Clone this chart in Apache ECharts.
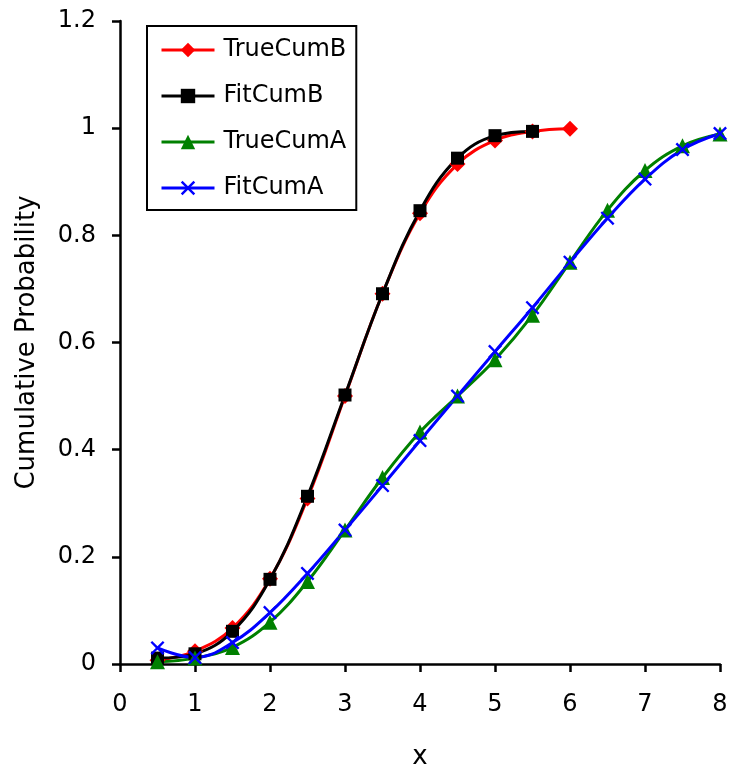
<!DOCTYPE html>
<html>
<head>
<meta charset="utf-8">
<script src="https://cdn.jsdelivr.net/npm/echarts@6/dist/echarts.min.js"></script>
<style>
html,body{margin:0;padding:0;background:#fff;}
#chart{width:733px;height:769px;}
</style>
</head>
<body>
<div id="chart"></div>
<script>
// ---- data ----
var xB = [0.5, 1, 1.5, 2, 2.5, 3, 3.5, 4, 4.5, 5, 5.5, 6];
var trueCumB = [0.007, 0.024, 0.067, 0.159, 0.309, 0.5, 0.691, 0.841, 0.933, 0.977, 0.994, 0.999];
var xFitB = [0.5, 1, 1.5, 2, 2.5, 3, 3.5, 4, 4.5, 5, 5.5];
var fitCumB = [0.011, 0.019, 0.061, 0.158, 0.313, 0.502, 0.691, 0.846, 0.944, 0.986, 0.994];
var xA = [0.5, 1, 1.5, 2, 2.5, 3, 3.5, 4, 4.5, 5, 5.5, 6, 6.5, 7, 7.5, 8];
var trueCumA = [0.004, 0.011, 0.031, 0.078, 0.154, 0.25, 0.348, 0.433, 0.5, 0.568, 0.651, 0.75, 0.847, 0.921, 0.967, 0.989];
var fitCumA = [0.03, 0.012, 0.04, 0.096, 0.169, 0.25, 0.333, 0.417, 0.5, 0.583, 0.665, 0.75, 0.832, 0.905, 0.96, 0.99];
var seriesNames = ['TrueCumB', 'FitCumB', 'TrueCumA', 'FitCumA'];
var xTicks = [0, 8, 1];
var yTicks = [0, 1.2, 0.2];

function zip(xs, ys) { return xs.map(function (x, i) { return [x, ys[i]]; }); }

var FONT = 'DejaVu Sans';
var crossPath = 'path://M0,1.2 L1.2,0 L5,3.8 L8.8,0 L10,1.2 L6.2,5 L10,8.8 L8.8,10 L5,6.2 L1.2,10 L0,8.8 L3.8,5 Z';

function mk(name, data, color, symbol, size) {
  return {
    name: name, type: 'line', data: data, smooth: 0.4,
    symbol: symbol, symbolSize: size, showSymbol: true,
    lineStyle: { color: color, width: 3 },
    itemStyle: { color: color, borderColor: color, borderWidth: 0 },
    emphasis: { disabled: true }, animation: false
  };
}

var chart = echarts.init(document.getElementById('chart'), null, { renderer: 'canvas' });
chart.setOption({
  backgroundColor: '#fff',
  animation: false,
  grid: { left: 120, right: 13, top: 21, bottom: 105, containLabel: false, outerBoundsMode: 'none' },
  legend: {
    orient: 'vertical', left: 147, top: 26,
    padding: [12, 10, 10, 13],
    borderColor: '#000', borderWidth: 2, backgroundColor: '#fff',
    itemWidth: 53, itemHeight: 18, itemGap: 22,
    lineStyle: { width: 3 },
    textStyle: { fontFamily: FONT, fontSize: 24, color: '#000', padding: [0, 0, 0, 4] },
    data: seriesNames
  },
  xAxis: {
    type: 'value', min: xTicks[0], max: xTicks[1], interval: xTicks[2],
    name: 'x', nameLocation: 'middle', nameGap: 80,
    nameTextStyle: { fontFamily: FONT, fontSize: 26, color: '#000' },
    axisLine: { show: true, onZero: false, lineStyle: { color: '#000', width: 2.5 } },
    axisTick: { show: true, inside: false, length: 8, lineStyle: { color: '#000', width: 2.5 } },
    axisLabel: { fontFamily: FONT, fontSize: 24, color: '#000', margin: 29 },
    splitLine: { show: false }
  },
  yAxis: {
    type: 'value', min: yTicks[0], max: yTicks[1], interval: yTicks[2],
    name: 'Cumulative Probability', nameLocation: 'middle', nameGap: 80,
    nameTextStyle: { fontFamily: FONT, fontSize: 26, color: '#000' },
    axisLine: { show: true, onZero: false, lineStyle: { color: '#000', width: 2.5 } },
    axisTick: { show: true, inside: false, length: 8, lineStyle: { color: '#000', width: 2.5 } },
    axisLabel: { fontFamily: FONT, fontSize: 24, color: '#000', margin: 24,
      formatter: function (v) { return String(Math.round(v * 10) / 10); } },
    splitLine: { show: false }
  },
  series: [
    mk(seriesNames[0], zip(xB, trueCumB), '#FF0000', 'diamond', 16),
    mk(seriesNames[1], zip(xFitB, fitCumB), '#000000', 'rect', 13),
    mk(seriesNames[2], zip(xA, trueCumA), '#008000', 'triangle', 15),
    mk(seriesNames[3], zip(xA, fitCumA), '#0000FF', crossPath, 14)
  ]
});
</script>
</body>
</html>
